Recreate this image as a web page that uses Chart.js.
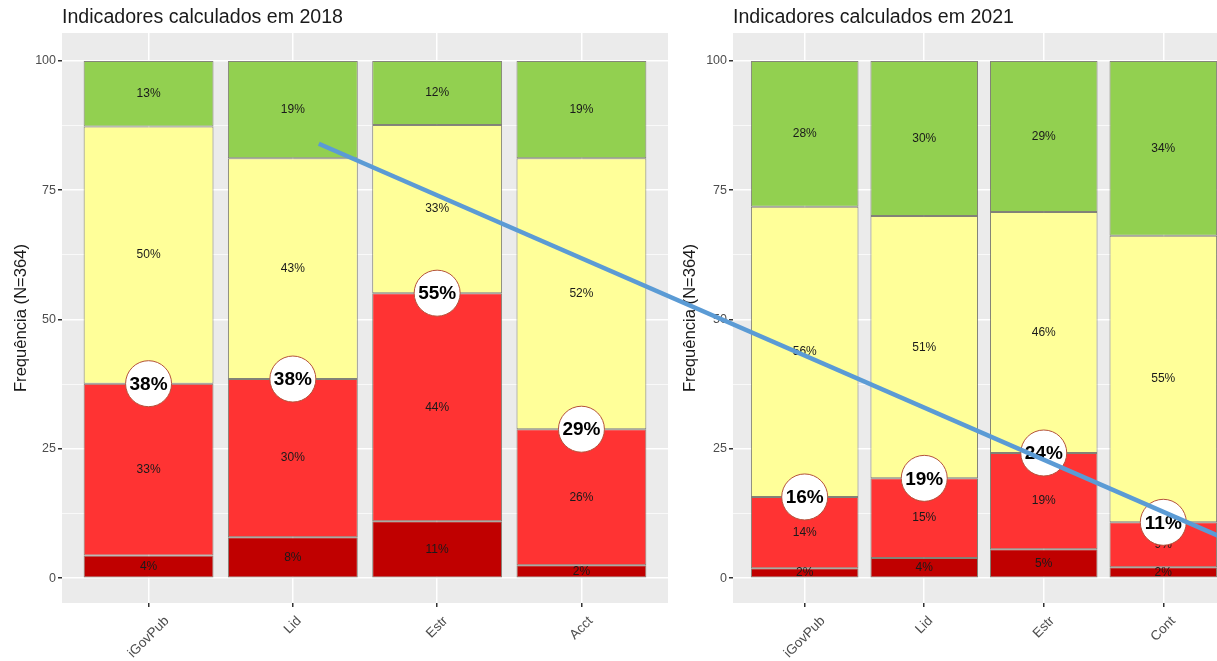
<!DOCTYPE html>
<html lang="pt">
<head>
<meta charset="utf-8">
<title>Indicadores calculados</title>
<script src="https://cdn.jsdelivr.net/npm/chart.js@4/dist/chart.umd.min.js"></script>
<style>
  html, body { margin: 0; padding: 0; background: #fff; width: 1217px; height: 661px; overflow: hidden; }
  .wrap { position: absolute; top: 0; height: 661px; }
  #wrap2018 { left: 0; width: 680px; }
  #wrap2021 { left: 676px; width: 564px; }
  #overlay { position: absolute; left: 0; top: 0; pointer-events: none; }
</style>
</head>
<body>
<div class="wrap" id="wrap2018"><canvas id="chart2018" width="680" height="661"></canvas></div>
<div class="wrap" id="wrap2021"><canvas id="chart2021" width="564" height="661"></canvas></div>
<canvas id="overlay" width="1217" height="661"></canvas>
<script>
// ---- dados (frequência %, de baixo para cima) ----
const categorias2018 = ["iGovPub", "Lid", "Estr", "Acct"];
const categorias2021 = ["iGovPub", "Lid", "Estr", "Cont"];
const niveis = ["Inexpressivo", "Iniciando", "Intermediário", "Aprimorado"];

const inexpressivo2018 = [4.4, 7.9, 11.0, 2.5];
const iniciando2018 = [33.2, 30.6, 44.1, 26.3];
const intermediario2018 = [49.7, 42.7, 32.5, 52.4];
const aprimorado2018 = [12.7, 18.8, 12.4, 18.8];

const inexpressivo2021 = [1.9, 3.9, 5.6, 2.1];
const iniciando2021 = [13.8, 15.4, 18.6, 8.7];
const intermediario2021 = [56.1, 50.7, 46.6, 55.4];
const aprimorado2021 = [28.2, 30.0, 29.2, 33.8];

// rótulos impressos em cada segmento
const rotulos2018 = [
  ["4%", "8%", "11%", "2%"],
  ["33%", "30%", "44%", "26%"],
  ["50%", "43%", "33%", "52%"],
  ["13%", "19%", "12%", "19%"],
];
const rotulos2021 = [
  ["2%", "4%", "5%", "2%"],
  ["14%", "15%", "19%", "9%"],
  ["56%", "51%", "46%", "55%"],
  ["28%", "30%", "29%", "34%"],
];
// destaque (inexpressivo + iniciando)
const destaque2018 = ["38%", "38%", "55%", "29%"];
const destaque2021 = ["16%", "19%", "24%", "11%"];

const yTicks = [0, 12.5, 25, 37.5, 50, 62.5, 75, 87.5, 100];

const cores = ["#C00000", "#FF3333", "#FFFF99", "#92D050"];
const FONT = "'Liberation Sans', Arial, sans-serif";

const panelPlugin = {
  id: "panelBg",
  beforeDraw: (chart) => {
    const { ctx, chartArea: a } = chart;
    ctx.save();
    ctx.fillStyle = "#EBEBEB";
    ctx.fillRect(a.left, a.top, a.right - a.left, a.bottom - a.top);
    ctx.restore();
  },
};

const makeChart = (canvasId, categorias, series, rotulos, destaque, titulo, yAxisWidth, padRight, titlePad) => {
  const textPlugin = {
    id: "textos",
    afterDatasetsDraw: (chart) => {
      const ctx = chart.ctx;
      ctx.save();
      // rótulos dos segmentos
      ctx.font = `12px ${FONT}`;
      ctx.fillStyle = "#1a1a1a";
      ctx.textAlign = "center";
      ctx.textBaseline = "middle";
      chart.data.datasets.forEach((ds, i) => {
        chart.getDatasetMeta(i).data.forEach((bar, j) => {
          ctx.fillText(rotulos[i][j], bar.x, (bar.y + bar.base) / 2);
        });
      });
      // círculos de destaque no topo do segmento vermelho
      chart.getDatasetMeta(1).data.forEach((bar, j) => {
        ctx.beginPath();
        ctx.arc(bar.x, bar.y, 23, 0, Math.PI * 2);
        ctx.fillStyle = "#fff";
        ctx.fill();
        ctx.lineWidth = 1;
        ctx.strokeStyle = "#B5533C";
        ctx.stroke();
        ctx.fillStyle = "#000";
        ctx.font = `bold 19px ${FONT}`;
        ctx.fillText(destaque[j], bar.x, bar.y + 1);
      });
      ctx.restore();
    },
    afterDraw: (chart) => {
      const { ctx, chartArea: a, scales } = chart;
      ctx.save();
      ctx.fillStyle = "#1a1a1a";
      ctx.font = `19.6px ${FONT}`;
      ctx.textAlign = "left";
      ctx.textBaseline = "alphabetic";
      ctx.fillText(titulo, a.left, 23);
      // rótulos do eixo x a 45 graus, centrados no tick
      ctx.font = `13.5px ${FONT}`;
      ctx.fillStyle = "#4D4D4D";
      ctx.textAlign = "center";
      ctx.textBaseline = "middle";
      categorias.forEach((c, i) => {
        const x = scales.x.getPixelForValue(i);
        const w = ctx.measureText(c).width;
        const y = a.bottom + 12 + ((w + 11) * Math.SQRT1_2) / 2;
        ctx.save();
        ctx.translate(x, y);
        ctx.rotate(-Math.PI / 4);
        ctx.fillText(c, 0, 0);
        ctx.restore();
      });
      ctx.restore();
    },
  };

  return new Chart(document.getElementById(canvasId), {
    type: "bar",
    data: {
      datasets: series.map((vals, i) => ({
        label: niveis[i],
        data: vals.map((v, j) => ({ x: j, y: v })),
        backgroundColor: cores[i],
        borderColor: "rgba(95,95,80,0.75)",
        borderWidth: 1,
        borderSkipped: false,
        barPercentage: 0.9,
        categoryPercentage: 1,
      })),
    },
    options: {
      responsive: false,
      animation: false,
      events: [],
      layout: { padding: { top: 33, right: padRight, left: 0, bottom: 0 } },
      plugins: { legend: { display: false }, tooltip: { enabled: false } },
      scales: {
        x: {
          type: "linear",
          stacked: true,
          offset: false,
          min: -0.6,
          max: 3.6,
          bounds: "data",
          afterBuildTicks: (s) => { s.ticks = categorias.map((c, i) => ({ value: i })); },
          afterFit: (s) => { s.height = 58; },
          ticks: { display: false },
          grid: { offset: false, color: "#fff", lineWidth: 1.5, tickColor: "#333", tickLength: 4 },
          border: { display: false },
        },
        y: {
          stacked: true,
          min: -4.8,
          max: 105.4,
          bounds: "data",
          afterBuildTicks: (s) => { s.ticks = yTicks.map((v) => ({ value: v })); },
          afterFit: (s) => { s.width = yAxisWidth; },
          ticks: {
            callback: (v) => (v % 25 === 0 ? String(v) : ""),
            font: { family: FONT, size: 12.5 },
            color: "#4D4D4D",
            padding: 2,
          },
          grid: {
            color: "#fff",
            lineWidth: (c) => (c.tick && c.tick.value % 25 === 0 ? 1.5 : 0.7),
            tickColor: (c) => (c.tick && c.tick.value % 25 === 0 ? "#333" : "rgba(0,0,0,0)"),
            tickLength: 4,
          },
          border: { display: false },
          title: {
            display: true,
            text: "Frequência (N=364)",
            font: { family: FONT, size: 16.6 },
            color: "#1a1a1a",
            padding: { top: titlePad, bottom: 0 },
          },
        },
      },
    },
    plugins: [panelPlugin, textPlugin],
  });
};

const chart2018 = makeChart(
  "chart2018", categorias2018,
  [inexpressivo2018, iniciando2018, intermediario2018, aprimorado2018],
  rotulos2018, destaque2018, "Indicadores calculados em 2018", 62, 12, 11,
);
const chart2021 = makeChart(
  "chart2021", categorias2021,
  [inexpressivo2021, iniciando2021, intermediario2021, aprimorado2021],
  rotulos2021, destaque2021, "Indicadores calculados em 2021", 57, 5, 4,
);

// linha azul de tendência sobreposta aos dois gráficos
const offset2021 = 676;
const inicio = {
  x: chart2018.scales.x.getPixelForValue(1.18),
  y: chart2018.scales.y.getPixelForValue(84),
};
const fim = {
  x: offset2021 + chart2021.scales.x.getPixelForValue(3.47),
  y: chart2021.scales.y.getPixelForValue(8.1),
};
const octx = document.getElementById("overlay").getContext("2d");
octx.strokeStyle = "#5B9BD5";
octx.lineWidth = 4.5;
octx.beginPath();
octx.moveTo(inicio.x, inicio.y);
octx.lineTo(fim.x, fim.y);
octx.stroke();
</script>
</body>
</html>
